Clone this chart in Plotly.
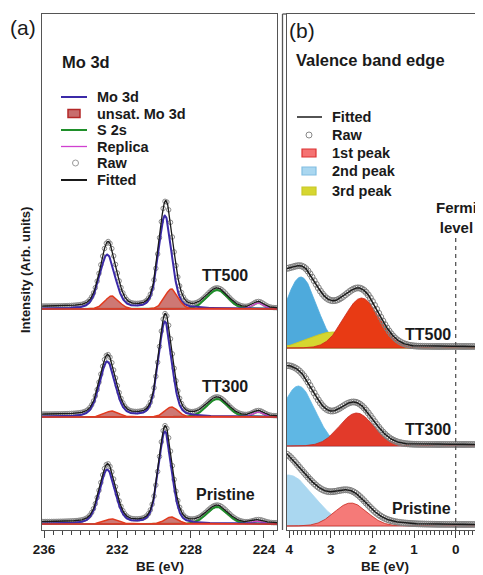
import numpy as np
import plotly.graph_objects as go

# ---------------- Panel (a): Mo 3d core level ----------------
a_samples = ["TT500", "TT300", "Pristine"]
a_offsets = [221, 113, 6]                      # vertical stacking offsets (arb. units)
mo_centers = [229.40, 232.55]                  # Mo 3d5/2, 3d3/2 (eV)
mo_fwhm = [0.85, 1.00]
mo_heights = [[93, 54], [95, 55], [92, 54]]
unsat_centers = [229.05, 232.30]
unsat_fwhm = [0.85, 0.90]
unsat_heights = [[20, 13], [10, 6], [7, 5]]
s2s_center = 226.55
s2s_fwhm = 1.35
s2s_heights = [19, 18, 17]
replica_center = 224.30
replica_fwhm = 0.70
replica_heights = [6, 5, 3]
a_background = [[2.5, 1.0], [2.5, 1.0], [2.0, 1.0]]   # at 236.1 eV, at 223.3 eV
a_range = [236.11, 223.29]

# ---------------- Panel (b): valence band edge ----------------
b_samples = ["TT500", "TT300", "Pristine"]
b_offsets = [182, 84, 4]
p1_centers = [2.26, 2.38, 2.52]                # 1st peak
p1_heights = [50, 33, 23]
p1_fwhm = [0.99, 0.97, 0.92]
p2_centers = [3.72, 3.78, 4.02]                # 2nd peak
p2_heights = [71, 60, 51]
p2_fwhm = [0.89, 0.94, 1.41]
p3_centers = [2.95, None, None]                # 3rd peak (TT500 only)
p3_heights = [16, 0, 0]
p3_fwhm = [1.30, 1.0, 1.0]
bgb_centers = [3.00, 3.00, 3.00]               # unfilled background components of the fit
bgb_heights = [8, 14, 10]
bgb_fwhm = [0.71, 1.53, 2.12]
tail_centers = [4.30, 4.35, 4.30]
tail_heights = [45, 45, 20]
tail_fwhm = [0.59, 0.71, 0.71]
b_const = [1.5, 1.5, 1.5]
b_range = [4.06, -0.656]

a_x = np.arange(223.25, 236.16, 0.02)
a_raw_x = np.arange(223.3, 236.11, 0.1)
b_x = np.arange(-0.66, 4.07, 0.01)
b_raw_x = np.arange(-0.65, 4.06, 0.05)


def pv(x, c, h, fwhm, eta=0.0):
    d = (x - c) ** 2 / fwhm ** 2
    return h * ((1 - eta) * np.exp(-4 * np.log(2) * d) + eta / (1 + 4 * d))


# page offset of the plot div (default body margin)
OFF = 8
W, H = 483 - OFF, 575 - OFF
TOP, BOT = 14, 530            # page pixel rows of the plot frame


def PX(p):
    return (p - OFF) / W


def PY(p):
    return (BOT - p) / (BOT - TOP)


fig = go.Figure()

C_MO = "#3b2aa8"
C_UNS_LINE = "#e23a1e"
C_UNS_FILL = "rgba(190,75,70,0.75)"
C_S2S = "#1f8f2a"
C_REP = "#d040d0"
C_FIT = "#1a1a1a"
C_RAW = "#8a8a8a"


def poly(x, y, base):
    return np.concatenate([x, x[::-1]]), np.concatenate([y + base, np.full(len(x), base)])


# ---- panel (a) traces
for i, s in enumerate(a_samples):
    off = a_offsets[i]
    b0, b1 = a_background[i]

    def parts(x):
        mo = sum(pv(x, mo_centers[k], mo_heights[i][k], mo_fwhm[k], 0.3) for k in range(2))
        un = sum(pv(x, unsat_centers[k], unsat_heights[i][k], unsat_fwhm[k], 0.1) for k in range(2))
        s2 = pv(x, s2s_center, s2s_heights[i], s2s_fwhm, 0.1)
        rp = pv(x, replica_center, replica_heights[i], replica_fwhm, 0.0)
        bg = b1 + (b0 - b1) * (x - a_range[1]) / (a_range[0] - a_range[1])
        return mo, un, s2, rp, mo + un + s2 + rp + bg

    mo, un, s2, rp, fit = parts(a_x)
    raw = parts(a_raw_x)[4]

    fig.add_trace(go.Scatter(x=a_raw_x, y=raw + off, mode="markers",
                             marker=dict(symbol="circle-open", size=4.5, color=C_RAW, line=dict(width=1)),
                             xaxis="x", yaxis="y", showlegend=False))
    fig.add_trace(go.Scatter(x=a_x, y=s2 + off, mode="lines", line=dict(color=C_S2S, width=2),
                             xaxis="x", yaxis="y", showlegend=False))
    fig.add_trace(go.Scatter(x=a_x, y=rp + off, mode="lines", line=dict(color=C_REP, width=1.2),
                             xaxis="x", yaxis="y", showlegend=False))
    fig.add_trace(go.Scatter(x=a_x, y=mo + off, mode="lines", line=dict(color=C_MO, width=2),
                             xaxis="x", yaxis="y", showlegend=False))
    px_, py_ = poly(a_x, un, off)
    fig.add_trace(go.Scatter(x=px_, y=py_, mode="lines", fill="toself", fillcolor=C_UNS_FILL,
                             line=dict(color=C_UNS_LINE, width=1.5),
                             xaxis="x", yaxis="y", showlegend=False))
    fig.add_trace(go.Scatter(x=a_x, y=fit + off, mode="lines", line=dict(color=C_FIT, width=1.3),
                             xaxis="x", yaxis="y", showlegend=False))

# ---- panel (b) traces
P1_FILL = ["rgb(232,58,20)", "rgb(226,58,42)", "rgb(245,122,120)"]
P2_FILL = ["rgb(78,170,220)", "rgb(95,183,228)", "rgb(170,215,240)"]
P3_FILL = "rgb(214,214,48)"

for i, s in enumerate(b_samples):
    off = b_offsets[i]

    def comp(x):
        p1 = pv(x, p1_centers[i], p1_heights[i], p1_fwhm[i])
        p2 = pv(x, p2_centers[i], p2_heights[i], p2_fwhm[i])
        p3 = pv(x, p3_centers[i], p3_heights[i], p3_fwhm[i]) if p3_centers[i] is not None else 0 * x
        hid = pv(x, bgb_centers[i], bgb_heights[i], bgb_fwhm[i]) + pv(x, tail_centers[i], tail_heights[i], tail_fwhm[i]) + b_const[i]
        return p1, p2, p3, p1 + p2 + p3 + hid

    p1, p2, p3, fit = comp(b_x)
    raw = comp(b_raw_x)[3]

    X, Y = poly(b_x, p2, off)
    fig.add_trace(go.Scatter(x=X, y=Y, mode="lines", fill="toself", fillcolor=P2_FILL[i],
                             line=dict(color=P2_FILL[i], width=0.8), xaxis="x2", yaxis="y2", showlegend=False))
    if p3_centers[i] is not None:
        X, Y = poly(b_x, p3, off)
        fig.add_trace(go.Scatter(x=X, y=Y, mode="lines", fill="toself", fillcolor=P3_FILL,
                                 line=dict(color="rgb(200,200,40)", width=1), xaxis="x2", yaxis="y2", showlegend=False))
    X, Y = poly(b_x, p1, off)
    fig.add_trace(go.Scatter(x=X, y=Y, mode="lines", fill="toself", fillcolor=P1_FILL[i],
                             line=dict(color="rgb(200,40,30)", width=0.8), xaxis="x2", yaxis="y2", showlegend=False))
    fig.add_trace(go.Scatter(x=b_raw_x, y=raw + off, mode="markers",
                             marker=dict(symbol="circle-open", size=6, color="#808080", line=dict(width=1)),
                             xaxis="x2", yaxis="y2", showlegend=False))
    fig.add_trace(go.Scatter(x=b_x, y=fit + off, mode="lines", line=dict(color=C_FIT, width=1.5),
                             xaxis="x2", yaxis="y2", showlegend=False))

FONT = "Liberation Sans, Arial, Helvetica, sans-serif"
AX_LINE = "#555555"

xcommon = dict(showgrid=False, zeroline=False, showline=True, linecolor=AX_LINE, linewidth=1.3,
               mirror=True, ticks="outside", ticklen=7, tickwidth=1.3, tickcolor="#444",
               tickfont=dict(family=FONT, size=13.5, color="#1a1a1a", weight="bold"))
ycommon = dict(showgrid=False, zeroline=False, showticklabels=False, ticks="",
               range=[0, BOT - TOP], fixedrange=True)

fig.update_layout(
    width=W, height=H, margin=dict(l=0, r=0, t=TOP - OFF, b=575 - BOT),
    paper_bgcolor="white", plot_bgcolor="white", showlegend=False,
    xaxis=dict(domain=[PX(42), PX(277)], range=a_range, tick0=224, dtick=4,
               minor=dict(dtick=0.5, tick0=224, ticks="outside", ticklen=4, tickwidth=1.1, tickcolor="#444"),
               anchor="y", automargin=False, **xcommon),
    yaxis=dict(domain=[0, 1], anchor="x", showline=True, linecolor=AX_LINE, linewidth=1.3, mirror=True, **ycommon),
    xaxis2=dict(domain=[PX(286.7), 1], range=b_range, tick0=0, dtick=1,
                minor=dict(dtick=0.1, tick0=0, ticks="outside", ticklen=4, tickwidth=1.1, tickcolor="#444"),
                anchor="y2", automargin=False, **xcommon),
    yaxis2=dict(domain=[0, 1], anchor="x2", showline=True, linecolor=AX_LINE, linewidth=1.3, mirror=False, **ycommon),
)

shapes = []
shapes.append(dict(type="line", xref="paper", yref="paper", x0=PX(282.5), x1=PX(282.5), y0=0, y1=1,
                   line=dict(color=AX_LINE, width=1.3)))
shapes.append(dict(type="line", xref="paper", yref="paper", x0=PX(282.5), x1=PX(287), y0=1, y1=1,
                   line=dict(color=AX_LINE, width=1.3)))
shapes.append(dict(type="line", xref="x2", yref="y2", x0=0, x1=0, y0=0, y1=BOT - 235,
                   line=dict(color="#555", width=1.3, dash="4px,4px")))

annotations = []


def txt(x, y, t, size, bold=True, xanchor="left", **kw):
    annotations.append(dict(x=PX(x), y=PY(y), xref="paper", yref="paper", text=t, showarrow=False,
                            xanchor=xanchor, yanchor="middle",
                            font=dict(family=FONT, size=size, color="#1a1a1a", weight="bold" if bold else "normal"),
                            **kw))


leg_a = [("Mo 3d", "line", C_MO), ("unsat. Mo 3d", "rect", None), ("S 2s", "line", C_S2S),
         ("Replica", "line", C_REP), ("Raw", "circle", None), ("Fitted", "line", C_FIT)]
leg_a_y = [97, 113.5, 130, 146.5, 163, 180]
for (name, kind, col), yy in zip(leg_a, leg_a_y):
    if kind == "line":
        shapes.append(dict(type="line", xref="paper", yref="paper", x0=PX(61), x1=PX(87), y0=PY(yy), y1=PY(yy),
                           line=dict(color=col, width=1.3 if name == "Replica" else 2)))
    elif kind == "rect":
        shapes.append(dict(type="rect", xref="paper", yref="paper", x0=PX(68), x1=PX(80), y0=PY(yy + 4), y1=PY(yy - 4),
                           fillcolor="rgb(200,110,110)", line=dict(color="rgb(180,40,40)", width=1.5)))
    else:
        shapes.append(dict(type="circle", xref="paper", yref="paper", x0=PX(72.5), x1=PX(78.5), y0=PY(yy + 3), y1=PY(yy - 3),
                           line=dict(color="#999", width=1)))
    txt(95, yy, name, 14.5)

leg_b = [("Fitted", "line", C_FIT, None), ("Raw", "circle", None, None),
         ("1st peak", "rect", "rgb(245,115,115)", "rgb(220,50,50)"),
         ("2nd peak", "rect", "rgb(170,215,240)", "rgb(130,190,225)"),
         ("3rd peak", "rect", "rgb(214,214,48)", "rgb(200,200,40)")]
leg_b_y = [117, 135, 153, 171, 191]
for (name, kind, col, edge), yy in zip(leg_b, leg_b_y):
    if kind == "line":
        shapes.append(dict(type="line", xref="paper", yref="paper", x0=PX(297), x1=PX(322), y0=PY(yy), y1=PY(yy),
                           line=dict(color=col, width=1.5)))
    elif kind == "rect":
        shapes.append(dict(type="rect", xref="paper", yref="paper", x0=PX(302), x1=PX(316), y0=PY(yy + 4), y1=PY(yy - 4),
                           fillcolor=col, line=dict(color=edge, width=1.2)))
    else:
        shapes.append(dict(type="circle", xref="paper", yref="paper", x0=PX(306), x1=PX(312), y0=PY(yy + 3), y1=PY(yy - 3),
                           line=dict(color="#888", width=1)))
    txt(330, yy, name, 14.5)

txt(8, 27, "(a)", 21, bold=False)
txt(287, 30, "(b)", 21, bold=False)
txt(60, 62, "Mo 3d", 16.5)
txt(294, 60, "Valence band edge", 16.5)
txt(456, 217, "Fermi<br>level", 15, xanchor="center")

a_label_pos = [(225, 275), (225, 386), (225, 494)]
for s, (x, y) in zip(a_samples, a_label_pos):
    txt(x, y, s, 16, xanchor="center")
b_label_pos = [(453, 334), (453, 429), (453, 508)]
for s, (x, y) in zip(b_samples, b_label_pos):
    txt(x, y, s, 16, xanchor="right")

txt(159.5, 566, "BE (eV)", 13.5, xanchor="center")
txt(385, 566, "BE (eV)", 13.5, xanchor="center")
annotations.append(dict(x=PX(25), y=PY(270), xref="paper", yref="paper", text="Intensity (Arb. units)",
                        showarrow=False, textangle=-90, xanchor="center", yanchor="middle",
                        font=dict(family=FONT, size=13, color="#1a1a1a", weight="bold")))

fig.update_layout(shapes=shapes, annotations=annotations)
fig.write_html("out.html")
